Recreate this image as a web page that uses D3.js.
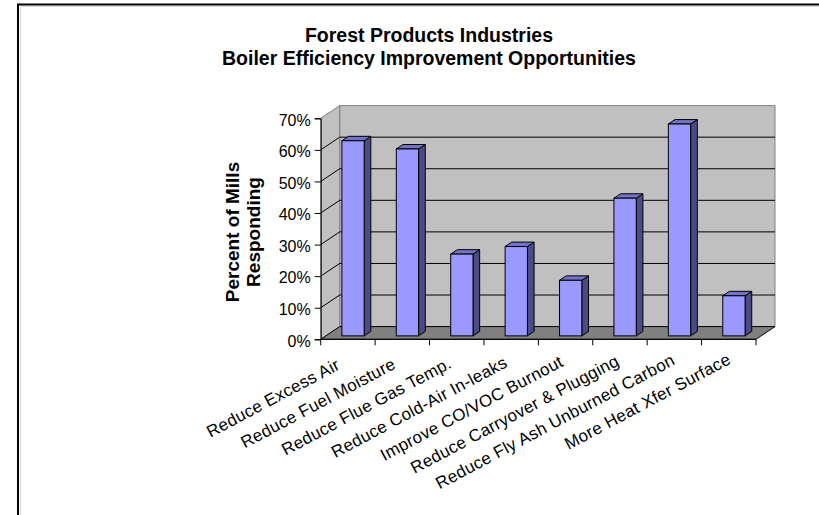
<!DOCTYPE html>
<html>
<head>
<meta charset="utf-8">
<script src="https://cdn.jsdelivr.net/npm/d3@7/dist/d3.min.js"></script>
<style>
  html, body { margin: 0; padding: 0; background: #ffffff; }
  svg { display: block; }
  text { font-family: "Liberation Sans", Arial, sans-serif; fill: #000; }
</style>
</head>
<body>
<svg id="chart" width="819" height="515"></svg>
<script>
// Survey categories and share of mills responding (fraction)
const categories = [
  "Reduce Excess Air",
  "Reduce Fuel Moisture",
  "Reduce Flue Gas Temp.",
  "Reduce Cold-Air In-leaks",
  "Improve CO/VOC Burnout",
  "Reduce Carryover & Plugging",
  "Reduce Fly Ash Unburned Carbon",
  "More Heat Xfer Surface"
];
const percentResponding = [0.618, 0.592, 0.259, 0.283, 0.176, 0.436, 0.671, 0.127];
const yTicks = [0, 0.1, 0.2, 0.3, 0.4, 0.5, 0.6, 0.7];
const titleLines = ["Forest Products Industries", "Boiler Efficiency Improvement Opportunities"];
const yTitleLines = ["Percent of Mills", "Responding"];

const svg = d3.select("#chart");

// Oblique 3-D projection: front plane plus a depth offset
const plot = { left: 320.7, right: 756, bottom: 339.3, top: 118.3 };
const depth = { dx: 19, dy: -12.7 };
const barDepth = { f0: 0.27, f1: 0.62 };

const x = d3.scaleBand()
  .domain(categories)
  .range([plot.left, plot.right])
  .paddingInner(0.59)
  .paddingOuter(0.295);
const y = d3.scaleLinear().domain([0, 0.7]).range([plot.bottom, plot.top]);

// Category label anchors (end of the rotated baseline)
const xLabel = d3.scalePoint().domain(categories).range([341, 732]);
const yLabel = d3.scalePoint().domain(categories).range([368.5, 363]);

// Outer chart frame
svg.append("rect")
  .attr("x", 18).attr("y", 4.5).attr("width", 900).attr("height", 600)
  .attr("fill", "none").attr("stroke", "#000").attr("stroke-width", 2);
svg.append("path")
  .attr("d", "M20.5,600V6.5H819")
  .attr("fill", "none").attr("stroke", "#d8d8d8").attr("stroke-width", 1);

// Title
svg.append("g").selectAll("text").data(titleLines).join("text")
  .attr("x", 429)
  .attr("y", (d, i) => 41.5 + i * 23.5)
  .attr("text-anchor", "middle")
  .attr("font-weight", "bold")
  .attr("font-size", 19.5)
  .text(d => d);

const g = svg.append("g");
const bx = plot.left + depth.dx, by = plot.bottom + depth.dy;
const tx = plot.right + depth.dx, ty = plot.top + depth.dy;

// Back wall
g.append("path")
  .attr("d", `M${bx},${by}V${ty}H${tx}V${by}Z`)
  .attr("fill", "#c0c0c0").attr("stroke", "#808080").attr("stroke-width", 1);
// Side wall
g.append("path")
  .attr("d", `M${plot.left},${plot.bottom}L${bx},${by}V${ty}L${plot.left},${plot.top}Z`)
  .attr("fill", "#c0c0c0").attr("stroke", "#808080").attr("stroke-width", 1);

// Gridlines on back wall and side wall
const gridT = yTicks.filter(t => t > 0 && t < 0.7);
g.append("g").selectAll("path").data(gridT).join("path")
  .attr("d", t => `M${plot.left},${y(t)}l${depth.dx},${depth.dy}H${tx}`)
  .attr("fill", "none").attr("stroke", "#000").attr("stroke-width", 1);

// Floor
g.append("path")
  .attr("d", `M${plot.left},${plot.bottom}L${bx},${by}H${tx}L${plot.right},${plot.bottom}Z`)
  .attr("fill", "#808080").attr("stroke", "#000").attr("stroke-width", 1);

// Bars
const d0x = barDepth.f0 * depth.dx, d0y = barDepth.f0 * depth.dy;
const ddx = (barDepth.f1 - barDepth.f0) * depth.dx;
const ddy = (barDepth.f1 - barDepth.f0) * depth.dy;
const w = x.bandwidth();
const bars = g.append("g").selectAll("g").data(categories.map((c, i) => ({ c, v: percentResponding[i] }))).join("g");
bars.append("path") // side face
  .attr("d", d => {
    const x0 = x(d.c) + d0x + w, yt = y(d.v) + d0y, yb = y(0) + d0y;
    return `M${x0},${yt}l${ddx},${ddy}V${yb + ddy}L${x0},${yb}Z`;
  })
  .attr("fill", "#4c4c84").attr("stroke", "#000").attr("stroke-width", 1).attr("stroke-linejoin", "round");
bars.append("path") // top face
  .attr("d", d => {
    const x0 = x(d.c) + d0x, yt = y(d.v) + d0y;
    return `M${x0},${yt}l${ddx},${ddy}h${w}l${-ddx},${-ddy}Z`;
  })
  .attr("fill", "#7373c6").attr("stroke", "#000").attr("stroke-width", 1).attr("stroke-linejoin", "round");
bars.append("rect") // front face
  .attr("x", d => x(d.c) + d0x)
  .attr("y", d => y(d.v) + d0y)
  .attr("width", w)
  .attr("height", d => y(0) - y(d.v))
  .attr("fill", "#9999ff").attr("stroke", "#000").attr("stroke-width", 1);

// Y axis
const yAxis = d3.axisLeft(y).tickValues(yTicks).tickFormat(d3.format(".0%")).tickSize(6).tickPadding(4);
const ya = svg.append("g").attr("transform", `translate(${plot.left},0)`).call(yAxis);
ya.select(".domain").attr("stroke", "#000");
ya.selectAll(".tick line").attr("stroke", "#000");
ya.selectAll(".tick text")
  .attr("font-size", 16)
  .attr("font-family", "Liberation Sans, Arial, sans-serif")
  .attr("fill", "#000")
  .attr("dy", "0.42em");

// X axis (ticks at category boundaries)
const xa = svg.append("g");
xa.append("line")
  .attr("x1", plot.left).attr("x2", plot.right)
  .attr("y1", plot.bottom).attr("y2", plot.bottom)
  .attr("stroke", "#000");
const boundaries = categories.map(c => x(c) - x.step() * x.paddingInner() / 2).concat([plot.right]);
xa.selectAll("line.tk").data(boundaries).join("line").attr("class", "tk")
  .attr("x1", d => d).attr("x2", d => d)
  .attr("y1", plot.bottom).attr("y2", plot.bottom + 6)
  .attr("stroke", "#000");

// Category labels, rotated
svg.append("g").selectAll("text").data(categories).join("text")
  .attr("transform", d => `translate(${xLabel(d)},${yLabel(d)}) rotate(-28)`)
  .attr("text-anchor", "end")
  .attr("font-size", 17)
  .attr("letter-spacing", 0.3)
  .text(d => d);

// Y axis title
svg.append("g").attr("transform", "translate(244,232) rotate(-90)")
  .selectAll("text").data(yTitleLines).join("text")
  .attr("x", 0)
  .attr("y", (d, i) => -5 + i * 21)
  .attr("text-anchor", "middle")
  .attr("font-weight", "bold")
  .attr("font-size", 19)
  .text(d => d);
</script>
</body>
</html>
